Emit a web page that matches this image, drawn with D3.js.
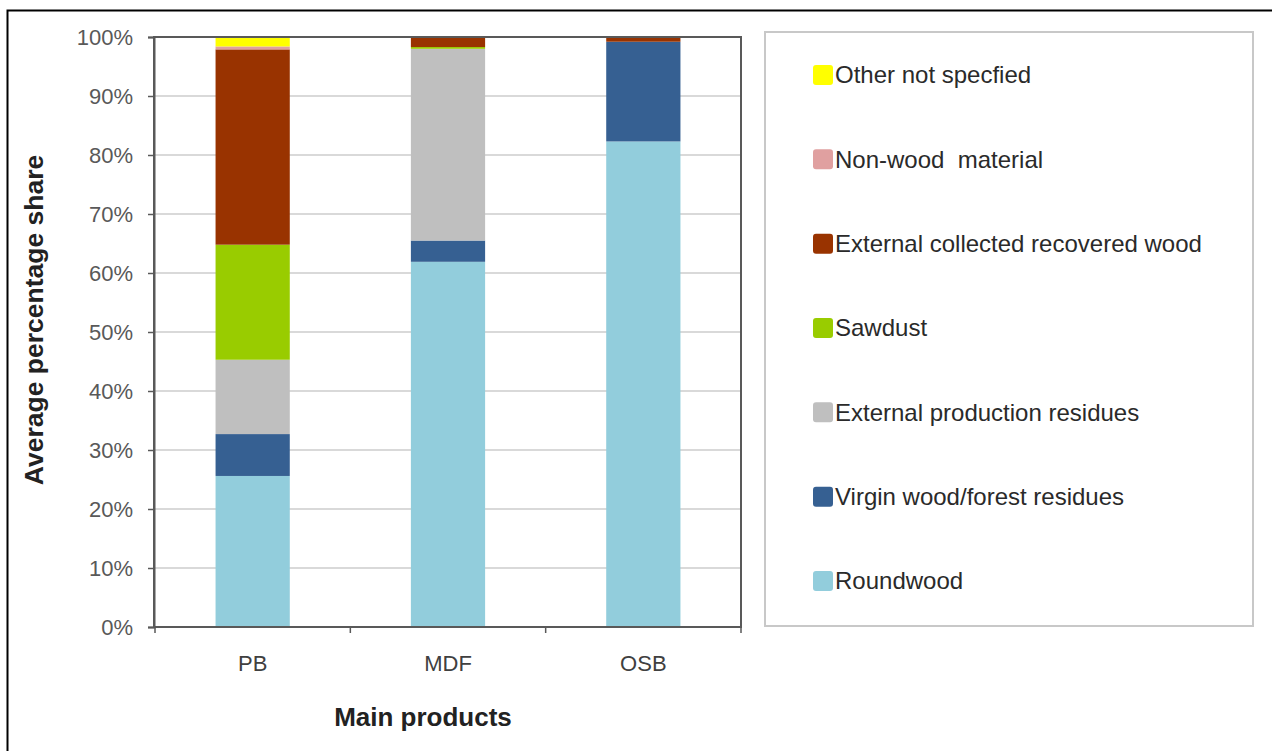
<!DOCTYPE html>
<html>
<head>
<meta charset="utf-8">
<script src="https://cdn.jsdelivr.net/npm/d3@7/dist/d3.min.js"></script>
<style>
  html, body { margin: 0; padding: 0; background: #fff; }
  svg { display: block; font-family: "Liberation Sans", Arial, sans-serif; }
</style>
</head>
<body>
<svg id="chart" width="1272" height="751"></svg>
<script>
// Products on the x axis
const products = ["PB", "MDF", "OSB"];

// Raw material groups, bottom of the stack first
const materials = [
  "Roundwood",
  "Virgin wood/forest residues",
  "External production residues",
  "Sawdust",
  "External collected recovered wood",
  "Non-wood  material",
  "Other not specfied"
];

// Average percentage share per product, in the order of `materials`
const roundwood          = [25.6, 61.9, 82.3];
const virginWood         = [7.1, 3.6, 16.9];
const productionResidues = [12.6, 32.5, 0];
const sawdust            = [19.5, 0.3, 0];
const recoveredWood      = [33.1, 1.7, 0.8];
const nonWood            = [0.5, 0, 0];
const otherNotSpecified  = [1.6, 0, 0];

const seriesValues = [roundwood, virginWood, productionResidues, sawdust,
                      recoveredWood, nonWood, otherNotSpecified];

const colors = ["#92cddc", "#366092", "#bfbfbf", "#99cc00", "#993300", "#e0a0a0", "#ffff00"];

const yTicks = [0, 10, 20, 30, 40, 50, 60, 70, 80, 90, 100];

// Table for d3.stack
const table = products.map((p, i) => {
  const row = { product: p };
  materials.forEach((m, k) => { row[m] = seriesValues[k][i]; });
  return row;
});

const svg = d3.select("#chart");

// Outer frame
svg.append("rect")
  .attr("x", 7.5).attr("y", 10.5)
  .attr("width", 1272).attr("height", 760)
  .attr("fill", "none").attr("stroke", "#000").attr("stroke-width", 2);

const plot = { left: 154, right: 741, top: 37, bottom: 627 };

const x = d3.scaleBand()
  .domain(products)
  .range([plot.left + 1, plot.right])
  .paddingInner(0.62)
  .paddingOuter(0.31);

const y = d3.scaleLinear().domain([0, 100]).range([plot.bottom, plot.top]);

// Gridlines
svg.append("g")
  .selectAll("line")
  .data(yTicks.filter(t => t > 0 && t < 100))
  .join("line")
  .attr("x1", plot.left).attr("x2", plot.right)
  .attr("y1", d => y(d)).attr("y2", d => y(d))
  .attr("stroke", "#d9d9d9").attr("stroke-width", 2);

// Stacked bars
const stack = d3.stack().keys(materials);
const layers = stack(table);

svg.append("g")
  .selectAll("g")
  .data(layers)
  .join("g")
  .attr("fill", (d, i) => colors[i])
  .selectAll("rect")
  .data(d => d)
  .join("rect")
  .attr("x", d => x(d.data.product))
  .attr("width", x.bandwidth())
  .attr("y", d => y(d[1]))
  .attr("height", d => Math.max(0, y(d[0]) - y(d[1])));

// Plot area border
svg.append("rect")
  .attr("x", plot.left).attr("y", plot.top)
  .attr("width", plot.right - plot.left).attr("height", plot.bottom - plot.top)
  .attr("fill", "none").attr("stroke", "#595959").attr("stroke-width", 2);

// Y axis
const yAxis = svg.append("g")
  .attr("transform", `translate(${plot.left},0)`)
  .call(d3.axisLeft(y).tickValues(yTicks).tickFormat(d => d + "%").tickSize(6).tickPadding(15));
yAxis.select(".domain").attr("stroke", "#595959").attr("stroke-width", 2);
yAxis.selectAll(".tick line").attr("stroke", "#595959").attr("stroke-width", 1.5);
yAxis.selectAll(".tick text")
  .attr("fill", "#595959")
  .style("font-size", "22px")
  .style("font-family", "'Liberation Sans', Arial, sans-serif");

// X axis with ticks at category boundaries
const xAxis = svg.append("g")
  .attr("transform", `translate(0,${plot.bottom})`)
  .call(d3.axisBottom(x).tickSize(0).tickPadding(28));
xAxis.select(".domain").remove();
xAxis.selectAll(".tick text")
  .attr("fill", "#404040")
  .style("font-size", "22px")
  .style("font-family", "'Liberation Sans', Arial, sans-serif");

const boundaries = d3.range(products.length + 1).map(i => plot.left + 1 + i * (plot.right - plot.left - 1) / products.length);
svg.append("g")
  .selectAll("line")
  .data(boundaries)
  .join("line")
  .attr("x1", d => d).attr("x2", d => d)
  .attr("y1", plot.bottom).attr("y2", plot.bottom + 6)
  .attr("stroke", "#595959").attr("stroke-width", 1.5);

// Axis titles
svg.append("text")
  .attr("transform", `translate(43,320) rotate(-90)`)
  .attr("text-anchor", "middle")
  .attr("font-weight", "bold")
  .attr("font-size", 26.5)
  .attr("fill", "#222")
  .text("Average percentage share");

svg.append("text")
  .attr("x", 423).attr("y", 726)
  .attr("text-anchor", "middle")
  .attr("font-weight", "bold")
  .attr("font-size", 26)
  .attr("fill", "#222")
  .text("Main products");

// Legend box
svg.append("rect")
  .attr("x", 765).attr("y", 32)
  .attr("width", 488).attr("height", 594)
  .attr("fill", "#fff").attr("stroke", "#c8c8c8").attr("stroke-width", 2);

const legendOrder = d3.range(materials.length).reverse();
const legendY = d3.scalePoint()
  .domain(legendOrder)
  .range([75, 581]);

const legend = svg.append("g")
  .selectAll("g")
  .data(legendOrder)
  .join("g")
  .attr("transform", k => `translate(813,${legendY(k)})`);

legend.append("rect")
  .attr("x", 0).attr("y", -10)
  .attr("width", 20).attr("height", 20)
  .attr("rx", 3)
  .attr("fill", k => colors[k]);

legend.append("text")
  .attr("x", 22).attr("y", 0)
  .attr("dy", "0.35em")
  .attr("font-size", 24)
  .attr("fill", "#2a2a2a")
  .style("white-space", "pre")
  .text(k => materials[k]);
</script>
</body>
</html>
